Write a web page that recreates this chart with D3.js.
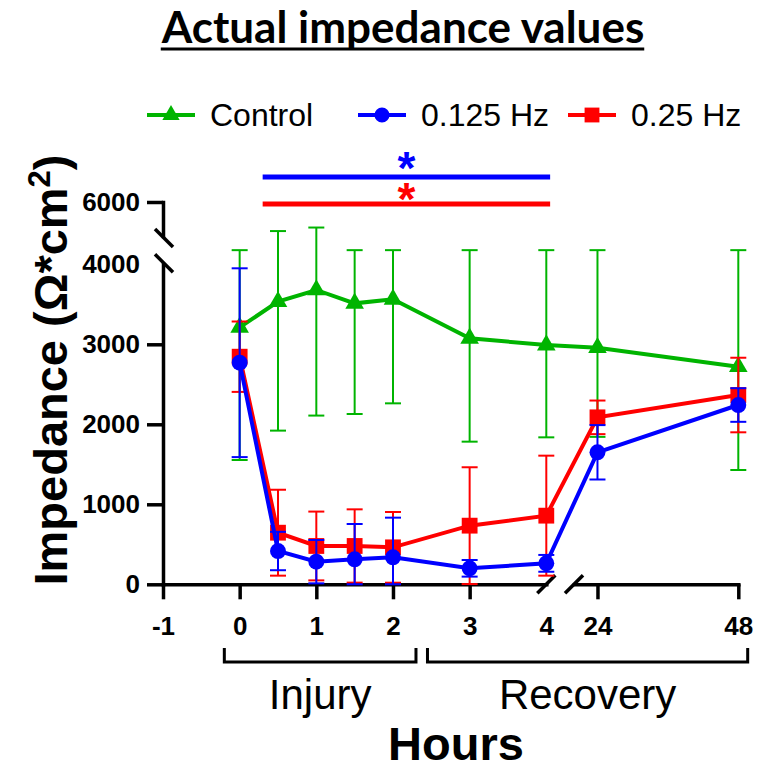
<!DOCTYPE html>
<html>
<head>
<meta charset="utf-8">
<script src="https://cdn.jsdelivr.net/npm/d3@7"></script>
<style>
  body { margin: 0; background: #fff; }
  svg { display: block; font-family: "Liberation Sans", Arial, sans-serif; }
</style>
</head>
<body>
<svg></svg>
<script>
// time points (hours)
var hours = [0, 0.5, 1, 1.5, 2, 3, 4, 24, 48];

var controlMean = [3212, 3533, 3679, 3512, 3562, 3075, 2991, 2958, 2720];
var controlSD   = [1658, 1612, 1570, 1383, 1300, 1292, 1154, 1115, 1291];

var hz125Mean = [2770, 416, 283, 312, 337, 200, 262, 1650, 2241];
var hz125SD   = [1180, 240, 271, 442, 496, 104, 105, 340, 210];

var hz25Mean = [2845, 645, 479, 479, 462, 733, 858, 2087, 2366];
var hz25SD   = [440, 537, 430, 458, 442, 730, 750, 210, 466];

var seriesNames = ["Control", "0.125 Hz", "0.25 Hz"];

var xTicksLow = [-1, 0, 1, 2, 3, 4];
var xTicksHigh = [24, 48];
var yTicksLow = [0, 1000, 2000, 3000, 4000];
var yTicksHigh = [6000];

// phase brackets under the x axis (hours)
var phaseNames = ["Injury", "Recovery"];
var phaseStart = [-0.2, 2.45];
var phaseEnd = [2.3, 49.6];

// significance bars (hours)
var sigStart = [0.3, 0.3];
var sigEnd = [4.05, 4.05];

var width = 760, height = 770;
var svg = d3.select("svg").attr("width", width).attr("height", height);

var colors = { "Control": "#00b400", "0.125 Hz": "#0000ff", "0.25 Hz": "#ff0000" };

// broken x axis: -1..4 then 20..48
var xLow = d3.scaleLinear().domain([-1, 4]).range([163, 546.3]);
var xHigh = d3.scaleLinear().domain([20, 48]).range([574, 738.3]);
function x(h) { return h <= 4.5 ? xLow(h) : xHigh(h); }

// broken y axis: 0..4000 then 5000..6000, values in the gap sit in the middle
var yLow = d3.scaleLinear().domain([0, 4000]).range([584.3, 264.3]);
var yHigh = d3.scaleLinear().domain([5000, 6000]).range([236, 202]);
var yGap = (yLow(4000) + yHigh(5000)) / 2;
function y(v) {
  v = Math.max(0, v);
  if (v <= 4000) return yLow(v);
  if (v < 5000) return yGap;
  return yHigh(v);
}

var series = [
  { name: "Control", mean: controlMean, sd: controlSD, symbol: d3.symbolTriangle, size: 150 },
  { name: "0.25 Hz", mean: hz25Mean, sd: hz25SD, symbol: d3.symbolSquare, size: 250 },
  { name: "0.125 Hz", mean: hz125Mean, sd: hz125SD, symbol: d3.symbolCircle, size: 200 }
];

// title
var title = svg.append("text")
    .attr("x", 403).attr("y", 43)
    .attr("text-anchor", "middle")
    .style("font-family", "Lato, 'Open Sans', sans-serif")
    .style("font-weight", "bold")
    .style("font-size", "44px")
    .text("Actual impedance values");
var tb = title.node().getBBox();
svg.append("line")
    .attr("x1", tb.x).attr("x2", tb.x + tb.width)
    .attr("y1", 49).attr("y2", 49)
    .attr("stroke", "#000").attr("stroke-width", 3);

// legend
var legendX = { "Control": 171, "0.125 Hz": 382, "0.25 Hz": 592 };
var legendSym = { "Control": d3.symbolTriangle, "0.125 Hz": d3.symbolCircle, "0.25 Hz": d3.symbolSquare };
var legendSize = { "Control": 130, "0.125 Hz": 180, "0.25 Hz": 220 };
seriesNames.forEach(function (name) {
  var g = svg.append("g").attr("transform", "translate(" + legendX[name] + ",115)");
  g.append("line").attr("x1", -24).attr("x2", 24)
      .attr("stroke", colors[name]).attr("stroke-width", 4);
  g.append("path").attr("d", d3.symbol().type(legendSym[name]).size(legendSize[name])())
      .attr("fill", colors[name]);
  g.append("text").attr("x", 39).attr("y", 11)
      .style("font-size", "32px")
      .text(name);
});

// significance bars
var sigColors = ["#0000ff", "#ff0000"];
var sigY = [177, 204];
var starY = [184, 215];
sigStart.forEach(function (s, i) {
  svg.append("line")
      .attr("x1", x(s)).attr("x2", x(sigEnd[i]))
      .attr("y1", sigY[i]).attr("y2", sigY[i])
      .attr("stroke", sigColors[i]).attr("stroke-width", 5);
  svg.append("text")
      .attr("x", (x(s) + x(sigEnd[i])) / 2).attr("y", starY[i])
      .attr("text-anchor", "middle")
      .style("font-size", "46px").style("font-weight", "bold")
      .attr("fill", sigColors[i])
      .text("*");
});

// axes
function styleAxis(g) {
  g.select(".domain").attr("stroke-width", 3.5).attr("stroke-linecap", "square");
  g.selectAll(".tick line").attr("stroke-width", 3.5);
  g.selectAll(".tick text").style("font-size", "26px").style("font-weight", "bold").attr("fill", "#000");
}
var fmt = function (d) { return String(d); };

var yAxisLow = svg.append("g").attr("transform", "translate(163,0)")
    .call(d3.axisLeft(yLow).tickValues(yTicksLow).tickFormat(fmt).tickSize(16).tickPadding(7).tickSizeOuter(0))
    .call(styleAxis);
yAxisLow.selectAll(".tick").filter(function (d) { return d === 4000; }).select("line").remove();

svg.append("g").attr("transform", "translate(163,0)")
    .call(d3.axisLeft(yHigh).tickValues(yTicksHigh).tickFormat(fmt).tickSize(16).tickPadding(7).tickSizeOuter(0))
    .call(styleAxis);

var xAxisLow = svg.append("g").attr("transform", "translate(0," + yLow(0) + ")")
    .call(d3.axisBottom(xLow).tickValues(xTicksLow).tickFormat(fmt).tickSize(15).tickPadding(17).tickSizeOuter(0))
    .call(styleAxis);
xAxisLow.selectAll(".tick").filter(function (d) { return d === 4; }).select("line").remove();

svg.append("g").attr("transform", "translate(0," + yLow(0) + ")")
    .call(d3.axisBottom(xHigh).tickValues(xTicksHigh).tickFormat(fmt).tickSize(15).tickPadding(17).tickSizeOuter(0))
    .call(styleAxis);

// break marks
function slash(cx, cy, dir) {
  svg.append("line")
      .attr("x1", cx - 9).attr("y1", cy - 9 * dir)
      .attr("x2", cx + 9).attr("y2", cy + 9 * dir)
      .attr("stroke", "#000").attr("stroke-width", 3.5);
}
slash(164, yHigh(5000) + 2, 1);
slash(164, yLow(4000) - 1, 1);
slash(xLow(4), yLow(0), -1);
slash(xHigh(20), yLow(0), -1);

// data
var line = d3.line().x(function (d) { return x(d.h); }).y(function (d) { return y(d.v); });
series.forEach(function (s) {
  var pts = hours.map(function (h, i) { return { h: h, v: s.mean[i], sd: s.sd[i] }; });
  var col = colors[s.name];
  var g = svg.append("g");
  var eb = g.selectAll(".eb").data(pts).enter().append("g").attr("class", "eb");
  eb.append("line")
      .attr("x1", function (d) { return x(d.h); }).attr("x2", function (d) { return x(d.h); })
      .attr("y1", function (d) { return y(d.v - d.sd); }).attr("y2", function (d) { return y(d.v + d.sd); })
      .attr("stroke", col).attr("stroke-width", 2);
  eb.append("line")
      .attr("x1", function (d) { return x(d.h) - 8; }).attr("x2", function (d) { return x(d.h) + 8; })
      .attr("y1", function (d) { return y(d.v + d.sd); }).attr("y2", function (d) { return y(d.v + d.sd); })
      .attr("stroke", col).attr("stroke-width", 2);
  eb.append("line")
      .attr("x1", function (d) { return x(d.h) - 8; }).attr("x2", function (d) { return x(d.h) + 8; })
      .attr("y1", function (d) { return y(d.v - d.sd); }).attr("y2", function (d) { return y(d.v - d.sd); })
      .attr("stroke", col).attr("stroke-width", 2);
  g.append("path").datum(pts).attr("d", line)
      .attr("fill", "none").attr("stroke", col).attr("stroke-width", 4);
  g.selectAll(".pt").data(pts).enter().append("path")
      .attr("transform", function (d) { return "translate(" + x(d.h) + "," + y(d.v) + ")"; })
      .attr("d", d3.symbol().type(s.symbol).size(s.size)())
      .attr("fill", col);
});

// phase brackets
phaseNames.forEach(function (name, i) {
  var x0 = x(phaseStart[i]), x1 = x(phaseEnd[i]);
  svg.append("path")
      .attr("d", "M" + x0 + ",648V662H" + x1 + "V648")
      .attr("fill", "none").attr("stroke", "#000").attr("stroke-width", 3);
  svg.append("text")
      .attr("x", (x0 + x1) / 2).attr("y", 709)
      .attr("text-anchor", "middle")
      .style("font-size", "42px")
      .text(name);
});

// axis titles
svg.append("text")
    .attr("x", 456).attr("y", 760)
    .attr("text-anchor", "middle")
    .style("font-size", "47px").style("font-weight", "bold")
    .text("Hours");

var yt = svg.append("text")
    .attr("transform", "translate(67,370) rotate(-90)")
    .attr("text-anchor", "middle")
    .style("font-size", "47px").style("font-weight", "bold");
yt.append("tspan").text("Impedance (Ω*cm");
yt.append("tspan").attr("dy", -17).style("font-size", "31px").text("2");
yt.append("tspan").attr("dy", 17).text(")");
</script>
</body>
</html>
